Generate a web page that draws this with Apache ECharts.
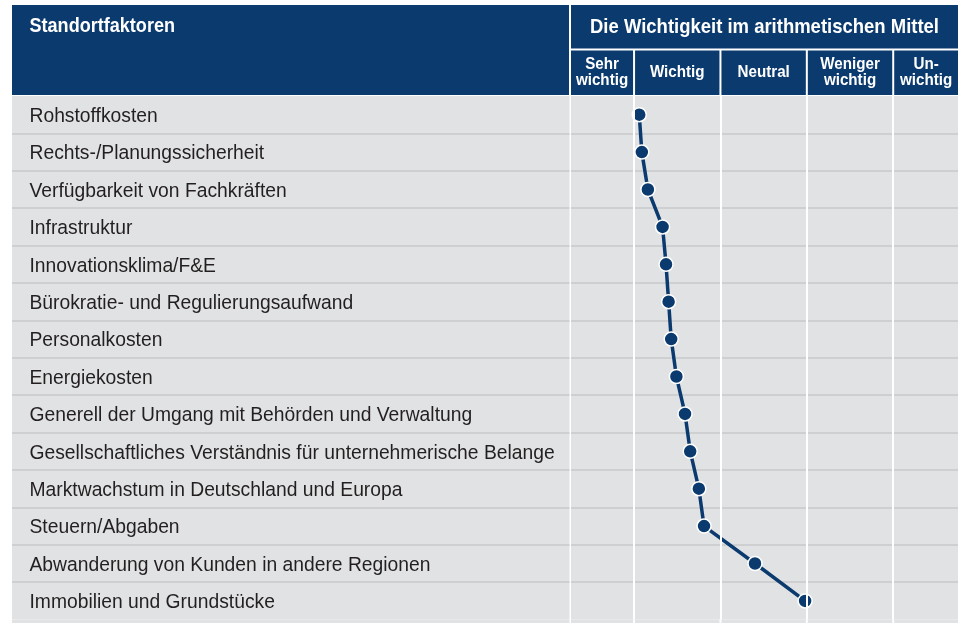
<!DOCTYPE html>
<html>
<head>
<meta charset="utf-8">
<script src="https://cdn.jsdelivr.net/npm/echarts@6/dist/echarts.min.js"></script>
<style>
  html, body { margin: 0; padding: 0; background: #fff; }
  #standort { width: 962px; height: 623px; }
</style>
</head>
<body>
<div id="standort"></div>
<script>
// Standortfaktoren, Wichtigkeit im arithmetischen Mittel (1 = sehr wichtig ... 5 = unwichtig)
const faktoren = [
  "Rohstoffkosten",
  "Rechts-/Planungssicherheit",
  "Verfügbarkeit von Fachkräften",
  "Infrastruktur",
  "Innovationsklima/F&E",
  "Bürokratie- und Regulierungsaufwand",
  "Personalkosten",
  "Energiekosten",
  "Generell der Umgang mit Behörden und Verwaltung",
  "Gesellschaftliches Verständnis für unternehmerische Belange",
  "Marktwachstum in Deutschland und Europa",
  "Steuern/Abgaben",
  "Abwanderung von Kunden in andere Regionen",
  "Immobilien und Grundstücke"
];
const mittel = [1.56, 1.59, 1.66, 1.83, 1.87, 1.90, 1.93, 1.99, 2.09, 2.15, 2.25, 2.31, 2.90, 3.48];
const spalten = ["Sehr\nwichtig", "Wichtig", "Neutral", "Weniger\nwichtig", "Un-\nwichtig"];

const blau = "#0b3a6e";
const grau = "#e1e2e4";
const linie = "#c7c8ca";
const schrift = "'Liberation Sans', Arial, sans-serif";

const rowH = 37.4;
const oben = 96;
const gridH = rowH * faktoren.length;

const option = {
  backgroundColor: "#fff",
  animation: false,
  grid: [
    { left: 12, top: oben, width: 557.5, height: gridH, show: true, backgroundColor: grau, borderWidth: 0 },
    { left: 571, top: oben, right: 4, height: gridH, show: true, backgroundColor: grau, borderWidth: 0 }
  ],
  xAxis: [
    { gridIndex: 0, type: "value", show: false },
    { gridIndex: 1, type: "value", min: 0.77, max: 5.25, show: false }
  ],
  yAxis: [
    {
      gridIndex: 0,
      type: "category",
      inverse: true,
      data: faktoren,
      axisLine: { show: false },
      axisTick: { show: false },
      axisLabel: {
        inside: true,
        align: "left",
        verticalAlign: "top",
        lineHeight: 4,
        margin: 17.5,
        color: "#231f20",
        fontSize: 19.3,
        fontFamily: schrift
      },
      splitLine: { show: true, showMinLine: false, showMaxLine: false, lineStyle: { color: linie, width: 1.5 } }
    },
    {
      gridIndex: 1,
      type: "category",
      inverse: true,
      data: faktoren,
      axisLine: { show: false },
      axisTick: { show: false },
      axisLabel: { show: false },
      splitLine: { show: true, showMinLine: false, showMaxLine: false, lineStyle: { color: linie, width: 1.5 } }
    }
  ],
  series: [
    {
      type: "line",
      xAxisIndex: 1,
      yAxisIndex: 1,
      data: mittel.map((v, i) => [v, faktoren[i]]),
      symbol: "circle",
      symbolSize: 14,
      lineStyle: { color: blau, width: 3.5 },
      itemStyle: { color: blau, borderColor: "#fff", borderWidth: 1.5 },
      // weisse Spaltentrenner liegen ueber der Linie
      markLine: {
        silent: true,
        symbol: "none",
        label: { show: false },
        lineStyle: { color: "#fff", width: 2, type: "solid" },
        emphasis: { disabled: true },
        data: [{ xAxis: 1.5 }, { xAxis: 2.5 }, { xAxis: 3.5 }, { xAxis: 4.5 }]
      }
    }
  ]
};

const chartObj = echarts.init(document.getElementById("standort"));
chartObj.setOption(option);

// Kopfzeile, an den Spaltengrenzen der Achse ausgerichtet
const px = v => chartObj.convertToPixel({ xAxisIndex: 1 }, v);
const links = 571, rechts = 958;
const grenzen = [links - 1, px(1.5), px(2.5), px(3.5), px(4.5), rechts + 1];
const unten = oben + gridH;

// schmale Schrift: Breite ueber scaleX
const kopf = { fill: "#fff", fontWeight: "bold", fontFamily: schrift, verticalAlign: "middle" };

const graphic = [
  { type: "rect", shape: { x: 12, y: 5, width: 557, height: 90 }, style: { fill: blau } },
  { type: "rect", shape: { x: links, y: 5, width: rechts - links, height: 90 }, style: { fill: blau } },
  { type: "rect", shape: { x: links, y: 48.5, width: rechts - links, height: 2 }, style: { fill: "#fff" } },
  // unterer Rand, Tabelle laeuft weiter
  { type: "rect", shape: { x: 12, y: unten, width: 557.5, height: 10 }, style: { fill: grau } },
  { type: "rect", shape: { x: links, y: unten, width: rechts - links, height: 10 }, style: { fill: grau } },
  {
    type: "text", x: 29.5, y: 26.5, scaleX: 0.86,
    style: Object.assign({ text: "Standortfaktoren", fontSize: 21, align: "left" }, kopf)
  },
  {
    type: "text", x: (links + rechts) / 2, y: 27, scaleX: 0.88,
    style: Object.assign({ text: "Die Wichtigkeit im arithmetischen Mittel", fontSize: 21, align: "center" }, kopf)
  }
];
for (let i = 1; i < 5; i++) {
  graphic.push({ type: "rect", shape: { x: grenzen[i] - 1, y: 49.5, width: 2, height: 45.5 }, style: { fill: "#fff" } });
  graphic.push({ type: "rect", shape: { x: grenzen[i] - 1, y: unten, width: 2, height: 10 }, style: { fill: "#fff" } });
}
spalten.forEach((s, i) => {
  graphic.push({
    type: "text",
    x: (grenzen[i] + grenzen[i + 1]) / 2,
    y: 72,
    scaleX: 0.92,
    style: Object.assign({ text: s, fontSize: 16.5, lineHeight: 16, align: "center" }, kopf)
  });
});
chartObj.setOption({ graphic: graphic });

window.addEventListener("resize", () => {
  chartObj.resize();
});
</script>
</body>
</html>
